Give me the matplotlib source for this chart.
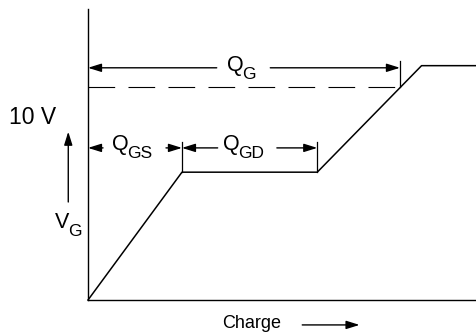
import matplotlib
matplotlib.use('Agg')
import matplotlib.pyplot as plt

# gate charge curve (arbitrary charge units, volts)
charge = [0, 10.0, 24.4, 35.5, 41.4]
vgate = [0, 6.0, 6.0, 11.0, 11.0]

q_gs = 10.0
q_gd_end = 24.4
q_g = 33.2
v_drive = 10.0

plt.rcParams['font.family'] = ['Liberation Sans', 'DejaVu Sans']

fig = plt.figure(figsize=(4.77, 3.34), dpi=100)
ax = fig.add_axes([88 / 477, 34 / 334, 1 - 88 / 477, (300 - 9) / 334])
ax.set_xlim(0, 41.4)
ax.set_ylim(0, 13.66)
for s in ['top', 'right']:
    ax.spines[s].set_visible(False)
for s in ['left', 'bottom']:
    ax.spines[s].set_linewidth(1.0)
ax.set_xticks([])
ax.set_yticks([])

ax.plot(charge, vgate, color='black', lw=1.1, clip_on=False)

# dashed 10 V line
ax.plot([0, q_g], [v_drive, v_drive], color='black', lw=0.8,
        linestyle=(0, (24, 12)))

arrow = dict(arrowstyle='-|>,head_length=0.8,head_width=0.25', lw=1.0,
             color='black', shrinkA=0, shrinkB=0)


def dim_arrow(x0, x1, gap0, gap1, y):
    ax.annotate('', xy=(x0, y), xytext=(gap0, y), arrowprops=arrow)
    ax.annotate('', xy=(x1, y), xytext=(gap1, y), arrowprops=arrow)


def sub_label(x, y, main, sub):
    t = ax.text(x, y, main, fontsize=15.5, ha='left', va='baseline',
                clip_on=False)
    ax.annotate(sub, xy=(1, 0), xycoords=t, xytext=(-1.0, -2.2),
                textcoords='offset points', fontsize=12.5, ha='left',
                va='baseline', annotation_clip=False)


# Q_G
dim_arrow(0, q_g, 13.7, 19.4, 10.9)
ax.plot([q_g, q_g], [10.0, 11.2], color='black', lw=0.9)
sub_label(14.79, 10.75, 'Q', 'G')

# Q_GS and Q_GD
y_arr = 7.14
dim_arrow(0, q_gs, 1.6, 8.3, y_arr)
dim_arrow(q_gs, q_gd_end, 13.8, 20.1, y_arr)
ax.plot([q_gs, q_gs], [6.0, 7.4], color='black', lw=0.9)
ax.plot([q_gd_end, q_gd_end], [6.0, 7.4], color='black', lw=0.9)
sub_label(2.55, 7.04, 'Q', 'GS')
sub_label(14.36, 7.04, 'Q', 'GD')

# y side labels
ax.text(-8.4, 8.27, '10 V', fontsize=16.5, ha='left', va='baseline',
        clip_on=False)
ax.annotate('', xy=(-2.1, 7.9), xytext=(-2.1, 4.6), arrowprops=arrow,
            annotation_clip=False)
sub_label(-3.51, 3.38, 'V', 'G')

# x label
ax.text(17.4, -1.08, 'Charge', fontsize=13, ha='center', va='center')
ax.annotate('', xy=(28.9, -1.17), xytext=(22.8, -1.17), arrowprops=arrow,
            annotation_clip=False)

fig.savefig('out.png', dpi=100)
